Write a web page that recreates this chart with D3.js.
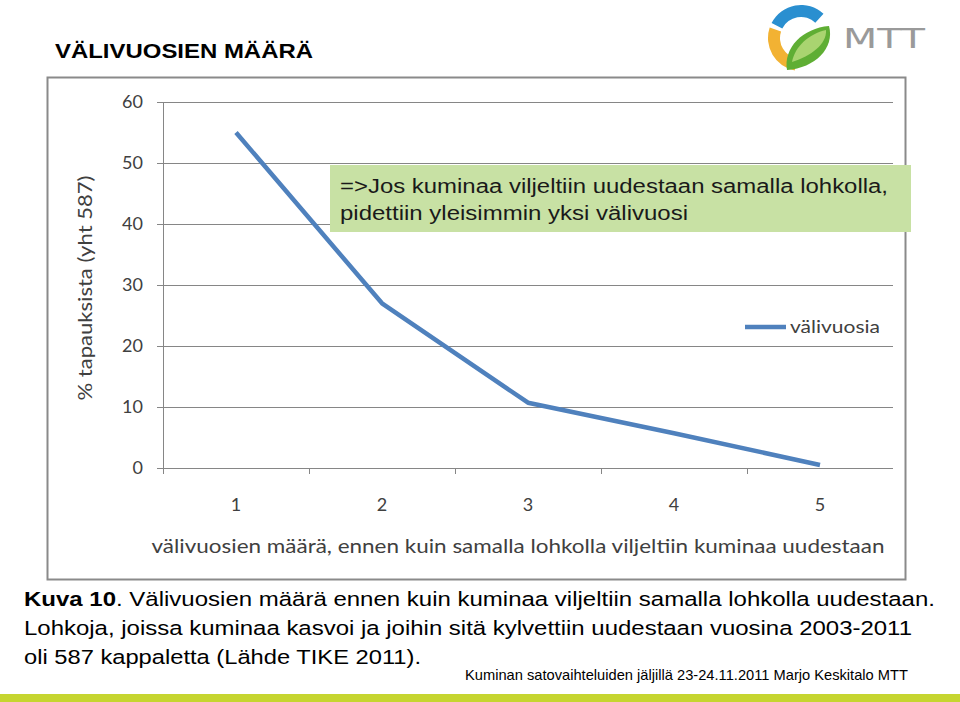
<!DOCTYPE html>
<html><head><meta charset="utf-8">
<script src="https://cdn.jsdelivr.net/npm/d3@7"></script>
<style>body{margin:0;background:#fff}svg{display:block}</style>
</head><body>
<script>
const categories = ["1","2","3","4","5"];
const values = [55, 27, 10.7, 5.7, 0.5];
const yTicks = [0,10,20,30,40,50,60];
const seriesName = "välivuosia";
const yTitle = "% tapauksista (yht 587)";
const xTitle = "välivuosien määrä, ennen kuin samalla lohkolla viljeltiin kuminaa uudestaan";
const pageTitle = "VÄLIVUOSIEN MÄÄRÄ";
const noteLines = ["=>Jos kuminaa viljeltiin uudestaan samalla lohkolla,", "pidettiin yleisimmin yksi välivuosi"];
const captionLines = ["Välivuosien määrä ennen kuin kuminaa viljeltiin samalla lohkolla uudestaan.",
  "Lohkoja, joissa kuminaa kasvoi ja joihin sitä kylvettiin uudestaan vuosina 2003-2011",
  "oli 587 kappaletta (Lähde TIKE 2011)."];
const footer = "Kuminan satovaihteluiden jäljillä 23-24.11.2011 Marjo Keskitalo MTT";

const W=960,H=702;
const svg=d3.select("body").append("svg").attr("width",W).attr("height",H);
const calibri = "Lato, 'Open Sans', sans-serif";
const arial = "Arial, 'Liberation Sans', sans-serif";
const fit = (sel,len)=>sel.attr("textLength",len).attr("lengthAdjust","spacingAndGlyphs");

// title
fit(svg.append("text").attr("x",55).attr("y",58).attr("font-family",arial).attr("font-weight","bold")
  .attr("font-size",21).attr("fill","#000").text(pageTitle),258);

// logo
const lg=svg.append("g").attr("transform","translate(801,38)");
const arc=d3.arc();
lg.append("path").attr("d",arc({innerRadius:21,outerRadius:33,startAngle:-1.1,endAngle:0.75,cornerRadius:3})).attr("fill","#2a8fd0");
lg.append("path").attr("d",arc({innerRadius:21,outerRadius:33,startAngle:-2.95,endAngle:-1.25,cornerRadius:3})).attr("fill","#f2b233");
lg.append("path").attr("d","M-14,32 C-18,10 2,-10 28,-12 C34,10 14,30 -14,32 Z").attr("fill","#5fae34");
lg.append("path").attr("d","M-9,24 C-6,8 8,-4 25,-8 C26,6 10,18 -9,24 Z").attr("fill","#a9d470");
fit(svg.append("text").attr("x",843).attr("y",48).attr("font-family","'DejaVu Sans', sans-serif")
  .attr("font-size",26).attr("fill","#9a9a9a").text("MTT"),82);

// chart frame
svg.append("rect").attr("x",47.5).attr("y",77.5).attr("width",858).attr("height",502)
  .attr("fill","#fff").attr("stroke","#8a8a8a").attr("stroke-width",2);

const x=d3.scaleBand().domain(categories).range([163,893]);
const y=d3.scaleLinear().domain([0,60]).range([468,102]);
const gridC="#868686";

// gridlines
svg.append("g").selectAll("line").data(yTicks).join("line")
  .attr("x1",157).attr("x2",893).attr("y1",d=>Math.round(y(d))+0.5).attr("y2",d=>Math.round(y(d))+0.5)
  .attr("stroke",gridC).attr("stroke-width",1);
// y axis line
svg.append("line").attr("x1",163.5).attr("x2",163.5).attr("y1",102).attr("y2",474).attr("stroke",gridC);
// x ticks
const bounds = categories.map(c=>x(c)).concat([x.range()[1]]);
svg.append("g").selectAll("line").data(bounds.slice(1,-1)).join("line")
  .attr("x1",d=>Math.round(d)+0.5).attr("x2",d=>Math.round(d)+0.5).attr("y1",468).attr("y2",474).attr("stroke",gridC);

// y labels
svg.append("g").selectAll("text").data(yTicks).join("text")
  .attr("x",143).attr("y",d=>y(d)+6).attr("text-anchor","end").attr("font-family",calibri)
  .attr("font-size",18).attr("fill","#404040").text(d=>d);
// x labels
svg.append("g").selectAll("text").data(categories).join("text")
  .attr("x",d=>x(d)+x.bandwidth()/2).attr("y",511).attr("text-anchor","middle").attr("font-family",calibri)
  .attr("font-size",18).attr("fill","#404040").text(d=>d);

// axis titles
fit(svg.append("text").attr("transform","translate(92,288) rotate(-90)").attr("text-anchor","middle")
  .attr("font-family",calibri).attr("font-size",20).attr("fill","#404040").text(yTitle),225);
fit(svg.append("text").attr("x",518).attr("y",553).attr("text-anchor","middle")
  .attr("font-family",calibri).attr("font-size",19).attr("fill","#404040").text(xTitle),733);

// line
const line=d3.line().x((d,i)=>x(categories[i])+x.bandwidth()/2).y(d=>y(d));
svg.append("path").datum(values).attr("d",line).attr("fill","none").attr("stroke","#4f81bd")
  .attr("stroke-width",4.5).attr("stroke-linejoin","round");

// legend
svg.append("line").attr("x1",745).attr("x2",786).attr("y1",327).attr("y2",327).attr("stroke","#4f81bd").attr("stroke-width",4.5);
fit(svg.append("text").attr("x",790).attr("y",333).attr("font-family",calibri).attr("font-size",18)
  .attr("fill","#404040").text(seriesName),90);

// note box
svg.append("rect").attr("x",330).attr("y",165).attr("width",581).attr("height",67).attr("fill","#c8e1a4");
const noteLen=[548,348];
svg.append("g").selectAll("text").data(noteLines).join("text")
  .attr("x",340).attr("y",(d,i)=>193+i*27).attr("font-family",arial).attr("font-size",20)
  .attr("fill","#1a1a1a").attr("textLength",(d,i)=>noteLen[i]).attr("lengthAdjust","spacingAndGlyphs").text(d=>d);

// caption
const cap=svg.append("g").attr("font-family",arial).attr("font-size",20.5).attr("fill","#000");
const t0=cap.append("text").attr("x",24).attr("y",606);
t0.append("tspan").attr("font-weight","bold").text("Kuva 10");
t0.append("tspan").text(". "+captionLines[0]);
fit(t0,911);
fit(cap.append("text").attr("x",24).attr("y",635).text(captionLines[1]),888);
fit(cap.append("text").attr("x",24).attr("y",664).text(captionLines[2]),397);

// footer
fit(svg.append("text").attr("x",465).attr("y",680).attr("font-family","'Liberation Sans Narrow', Arial, sans-serif")
  .attr("font-size",15).attr("fill","#000").text(footer),443);
svg.append("rect").attr("x",0).attr("y",694).attr("width",W).attr("height",8).attr("fill","#c6d530");
</script>
</body></html>
